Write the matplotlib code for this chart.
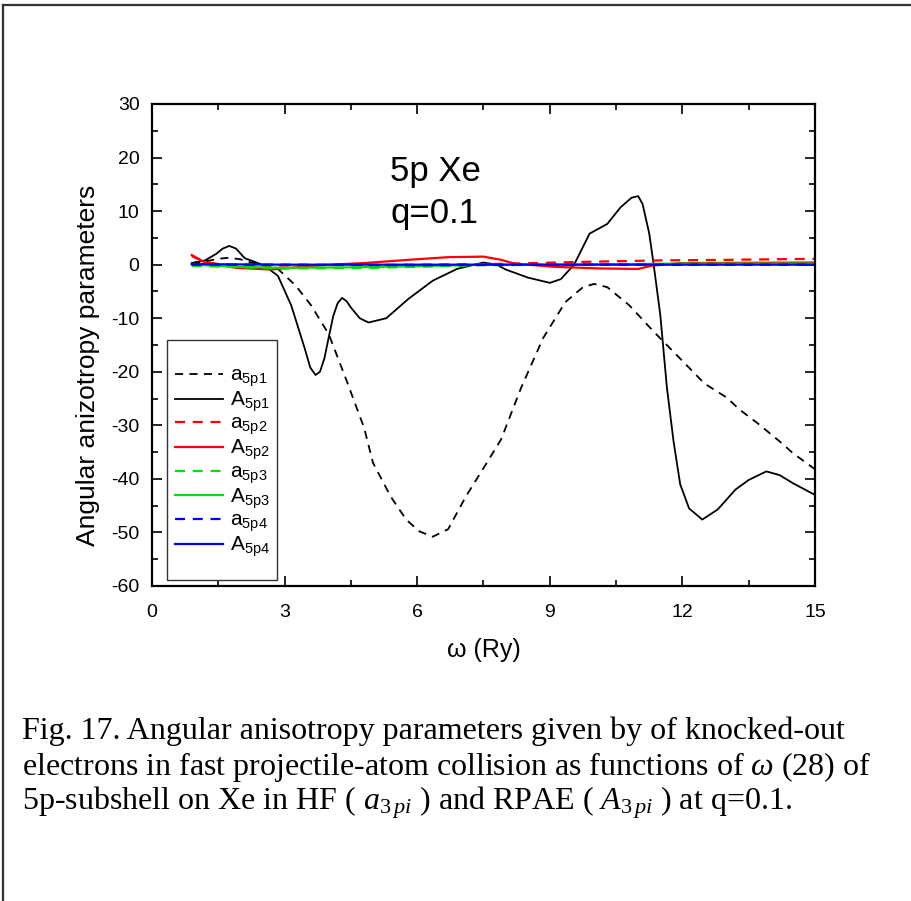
import numpy as np
import matplotlib
matplotlib.use("Agg")
from matplotlib import pyplot as plt
from matplotlib.lines import Line2D
from matplotlib.patches import Rectangle

plt.rcParams['font.family'] = ['Liberation Sans', 'DejaVu Sans']
plt.rcParams['axes.unicode_minus'] = False
plt.rcParams['mathtext.fontset'] = 'custom'
plt.rcParams['mathtext.rm'] = 'Liberation Serif'
plt.rcParams['mathtext.it'] = 'Liberation Serif:italic'

# HF a_5p1 (black dashed)
a1_x = [0.9, 1.2, 1.5, 1.75, 2.0, 2.2, 2.5, 2.85, 3.25, 3.6, 4.0, 4.4, 4.8, 5.0, 5.4,
        5.75, 6.05, 6.35, 6.7, 7.1, 7.5, 7.9, 8.35, 8.85, 9.35, 9.75, 10.0, 10.3, 10.8,
        11.35, 11.85, 12.5, 13.0, 13.3, 13.7, 14.2, 14.5, 15.0]
a1_y = [0.3, 0.6, 1.1, 1.3, 1.0, 0.5, 0.0, -0.8, -3.9, -7.6, -13.0, -21.6, -30.5, -37.0,
        -43.3, -47.6, -49.8, -50.8, -49.4, -43.3, -38.0, -32.6, -23.0, -13.7, -7.0, -4.2,
        -3.6, -4.2, -7.6, -12.5, -16.7, -22.2, -24.8, -27.1, -29.6, -33.0, -35.2, -38.2]

# RPAE A_5p1 (black solid)
A1_x = [0.9, 1.2, 1.45, 1.6, 1.75, 1.9, 2.1, 2.3, 2.55, 2.85, 3.15, 3.45, 3.58, 3.7, 3.8,
        3.9, 4.0, 4.1, 4.2, 4.3, 4.4, 4.5, 4.7, 4.9, 5.3, 5.8, 6.35, 6.9, 7.5, 7.8, 8.0,
        8.5, 9.0, 9.25, 9.55, 9.9, 10.3, 10.6, 10.85, 11.0, 11.1, 11.25, 11.35, 11.5, 11.65,
        11.8, 11.95, 12.15, 12.45, 12.8, 13.2, 13.5, 13.9, 14.2, 14.5, 15.0]
A1_y = [0.3, 0.8, 2.0, 3.0, 3.5, 3.0, 1.2, 0.6, -0.2, -2.1, -7.6, -15.5, -19.2, -20.6, -20.0,
        -17.5, -13.5, -9.6, -7.2, -6.2, -6.8, -8.0, -10.0, -10.8, -10.0, -6.4, -3.0, -0.8,
        0.4, 0.0, -0.9, -2.4, -3.4, -2.7, 0.0, 5.8, 7.6, 10.7, 12.5, 12.8, 11.3, 5.8, 0.0,
        -9.4, -23.0, -33.0, -41.0, -45.5, -47.6, -45.7, -42.0, -40.2, -38.6, -39.3, -40.8,
        -43.0]

# a_5p2 (red dashed)
a2_x = [0.9, 1.2, 1.6, 2.5, 4.0, 6.0, 7.5, 8.2, 9.6, 11.5, 13.0, 15.0]
a2_y = [1.6, 0.5, 0.0, -0.2, -0.1, 0.0, 0.1, 0.2, 0.5, 0.8, 0.9, 1.1]

# A_5p2 (red solid)
A2_x = [0.9, 1.2, 1.9, 2.7, 3.8, 4.8, 5.8, 6.7, 7.5, 7.9, 8.2, 9.1, 10.1, 11.0, 11.3,
        12.0, 15.0]
A2_y = [1.8, 0.4, -0.6, -0.9, -0.1, 0.3, 0.9, 1.4, 1.5, 0.9, 0.2, -0.4, -0.7, -0.8, -0.2,
        0.3, 0.4]

# a_5p3 / A_5p3 (green)
a3_x = [0.9, 2.0, 3.0, 5.0, 6.0, 7.5, 10.0, 15.0]
a3_y = [-0.2, -0.5, -0.7, -0.6, -0.4, -0.1, 0.0, 0.0]
A3_x = [0.9, 2.0, 3.0, 4.5, 6.0, 7.5, 9.0, 12.0, 15.0]
A3_y = [0.0, -0.4, -0.6, -0.5, -0.3, 0.0, 0.0, 0.2, 0.2]

# a_5p4 / A_5p4 (blue)
a4_x = [0.9, 3.0, 6.0, 9.0, 12.0, 15.0]
a4_y = [0.0, 0.0, -0.1, 0.0, 0.0, 0.0]
A4_x = [0.9, 3.0, 6.0, 9.0, 12.0, 15.0]
A4_y = [0.1, 0.0, 0.0, 0.0, 0.0, 0.0]

fig = plt.figure(figsize=(9.12, 9.01), dpi=100)
ax = fig.add_axes([152 / 912, 1 - 586 / 901, 663 / 912, 482 / 901])

dash = (0, (4.5, 3.5))
ax.plot(a1_x, a1_y, color='black', lw=1.3, ls=dash, label='a$_{\\mathregular{5p1}}$')
ax.plot(A1_x, A1_y, color='black', lw=1.3, label='A$_{\\mathregular{5p1}}$')
ax.plot(a2_x, a2_y, color='#ff0000', lw=1.6, ls=dash, label='a$_{\\mathregular{5p2}}$')
ax.plot(A2_x, A2_y, color='#ff0000', lw=1.6, label='A$_{\\mathregular{5p2}}$')
ax.plot(a3_x, a3_y, color='#00e000', lw=1.6, ls=dash, label='a$_{\\mathregular{5p3}}$')
ax.plot(A3_x, A3_y, color='#00e000', lw=1.6, label='A$_{\\mathregular{5p3}}$')
ax.plot(a4_x, a4_y, color='#0000ff', lw=1.6, ls=dash, label='a$_{\\mathregular{5p4}}$')
ax.plot(A4_x, A4_y, color='#0000ff', lw=1.6, label='A$_{\\mathregular{5p4}}$')

ax.set_xlim(0, 15)
ax.set_ylim(-60, 30)
ax.set_xticks(np.arange(0, 16, 3))
ax.set_xticks(np.arange(1.5, 15, 3), minor=True)
ax.set_yticks(np.arange(-60, 31, 10))
ax.set_yticks(np.arange(-55, 30, 10), minor=True)
ax.tick_params(which='both', direction='in', top=True, right=True, width=1.2, labelsize=14)
ax.tick_params(which='major', length=7)
ax.tick_params(axis='x', which='major', pad=13)
ax.tick_params(axis='y', which='major', pad=9)
ax.tick_params(which='minor', length=4)
for s in ax.spines.values():
    s.set_linewidth(1.6)

ax.set_xlabel('\u03c9 (Ry)', fontsize=18, labelpad=12)
ax.set_ylabel('Angular anizotropy parameters', fontsize=19)
ax.yaxis.set_label_coords(-0.078, 0.4585)

ax.text(0.359, 0.86, '5p Xe', transform=ax.transAxes, fontsize=25, va='center')
ax.text(0.359, 0.772, 'q=0.1', transform=ax.transAxes, fontsize=25, va='center')

# legend frame drawn separately so the padding can differ per side
ax.add_patch(Rectangle((15 / 663, 6 / 482), 110 / 663, 240 / 482, transform=ax.transAxes,
                       fill=False, edgecolor='#333333', lw=1.0, zorder=4))
leg = ax.legend(loc='upper left', bbox_to_anchor=(23 / 663, 220 / 482), fontsize=15,
                handlelength=2.3, labelspacing=0.03, borderpad=0, borderaxespad=0,
                handletextpad=0.35, frameon=False)

# page border
fig.add_artist(Line2D([3 / 912, 3 / 912], [0, 1 - 5 / 901], color='#333333', lw=1.6))
fig.add_artist(Line2D([3 / 912, 1], [1 - 5 / 901, 1 - 5 / 901], color='#333333', lw=1.6))

serif = ['Liberation Serif', 'DejaVu Serif']
cap = dict(fontsize=23, family=serif, va='center', ha='left')
fig.text(22 / 912, 1 - 731 / 901, 'Fig. 17. Angular anisotropy parameters given by of knocked-out', **cap)
fig.text(22 / 912, 1 - 767 / 901, 'electrons in fast projectile-atom collision as functions of $\\omega$ (28) of', **cap)
fig.text(22 / 912, 1 - 803 / 901, '5p-subshell on Xe in HF ( $a_{3\\,pi}$ ) and RPAE ( $A_{3\\,pi}$ ) at q=0.1.', **cap)

fig.savefig('out.png', dpi=100)
